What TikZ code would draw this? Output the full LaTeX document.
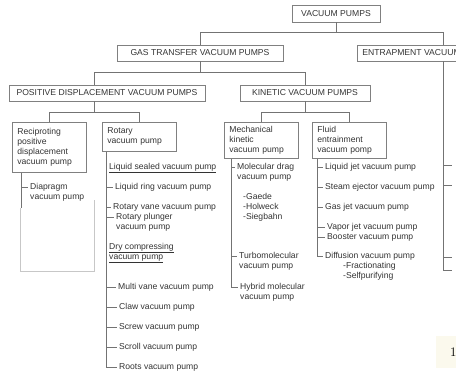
\documentclass[tikz,border=0pt]{standalone}
\usepackage{fontspec}
\setsansfont{Liberation Sans}
\definecolor{cream}{RGB}{251,249,237}

\begin{document}
\begin{tikzpicture}[x=1pt,y=-1pt,
    font=\sffamily\fontsize{8.6}{10}\selectfont,
    link/.style={draw=black!55,line width=0.7pt},
    group/.style={draw=black!50,line width=0.8pt,text=black!80,inner xsep=5pt,inner ysep=0pt}]

    % `group' is a boxed class of pumps.
    % `kind' is a boxed pump type, `item' a pump hung on a spine.
    \tikzstyle{kind} = [draw=black!50,line width=0.8pt,text=black!80,align=left,text width=64pt,inner xsep=5pt,anchor=north west]
    \tikzstyle{item} = [text=black!80,align=left,inner xsep=2.5pt,inner ysep=0pt,anchor=north west]
    \tikzstyle{sheet} = [draw=black!22,line width=0.6pt]
    %
    \useasboundingbox (0,0) rectangle (456,375);
    \clip (0,0) rectangle (456,375);

    % Spine positions.
    \coordinate (pdx) at (94,0);
    \coordinate (recipx) at (21,0);
    \coordinate (rotx) at (106,0);
    \coordinate (mechx) at (231,0);
    \coordinate (fluidx) at (317,0);
    \coordinate (entx) at (443,0);

    % Classes.
    \node[group,minimum width=88pt,minimum height=17pt] (vp) at (336,13.5) {VACUUM PUMPS};
    \node[group,minimum width=166pt,minimum height=16pt] (gt) at (200,53) {GAS TRANSFER VACUUM PUMPS};
    \node[group,minimum height=16pt,anchor=west] (ent) at (357,53) {ENTRAPMENT VACUUM PUMPS};
    \node[group,minimum width=196pt,minimum height=16pt] (pd) at (107,93) {POSITIVE DISPLACEMENT VACUUM PUMPS};
    \node[group,minimum width=130pt,minimum height=16pt] (kin) at (305,93) {KINETIC VACUUM PUMPS};

    % Types.
    \node[kind,minimum height=50pt] (recip) at (12,122) {Reciproting\\positive\\displacement\\vacuum pump};
    \node[kind,minimum height=29pt] (rot) at (102,122) {Rotary\\vacuum pump};
    \node[kind,minimum height=36pt] (mech) at (224,122) {Mechanical\\kinetic\\vacuum pump};
    \node[kind,minimum height=36pt] (fluid) at (312,122) {Fluid\\entrainment\\vacuum pomp};

    % Tree lines.
    \draw[link] (vp.south) -- ++(0,10) -| (gt.north);
    \draw[link] (vp.south) -- ++(0,10) -| (ent.north -| entx);
    \draw[link] (gt.south) -- ++(0,11) -| (pd.north -| pdx);
    \draw[link] (gt.south) -- ++(0,11) -| (kin.north);
    \draw[link] (pd.south -| pdx) -- ++(0,11) -| (recip.north);
    \draw[link] (pd.south -| pdx) -- ++(0,11) -| (rot.north);
    \draw[link] (kin.south) -- ++(0,11) -| (mech.north);
    \draw[link] (kin.south) -- ++(0,11) -| (fluid.north);

    % Reciproting pumps.
    \draw[sheet] (20,208) -- (20,271) -- (94,271) -- (94,200);
    \node[item] (diaph) at (27.5,183) {Diapragm\\vacuum pump};
    \coordinate (recipend) at (21,208);
    \draw[link] (recip.south -| recipx) -- (recipend);
    \draw[link] ([yshift=-4pt]diaph.north west -| recipx) -- ([yshift=-4pt]diaph.north west);

    % Rotary pumps.
    \node[item] (lsealed) at (106.5,163) {\underline{Liquid sealed vacuum pump}};
    \node[item] (lring) at (112.5,183) {Liquid ring vacuum pump};
    \node[item] (rvane) at (110.5,203) {Rotary vane vacuum pump};
    \node[item] (rplunger) at (113.5,213) {Rotary plunger\\vacuum pump};
    \node[item] (drycomp) at (106.5,243) {\underline{Dry compressing}\\\underline{vacuum pump}};
    \node[item] (mvane) at (115.5,283) {Multi vane vacuum pump};
    \node[item] (claw) at (116.5,303) {Claw vacuum pump};
    \node[item] (screw) at (116.5,323) {Screw vacuum pump};
    \node[item] (scroll) at (116.5,343) {Scroll vacuum pump};
    \node[item] (roots) at (116.5,363) {Roots vacuum pump};
    \draw[link] (rot.south -| rotx) |- ([yshift=-4pt]roots.north west);
    \foreach \p in {lring,rvane,rplunger,mvane,claw,screw,scroll}
      \draw[link] ([yshift=-4pt]\p.north west -| rotx) -- ([yshift=-4pt]\p.north west);

    % Mechanical kinetic pumps.
    \node[item] (moldrag) at (234.5,163) {Molecular drag\\vacuum pump};
    \node[item] (makers) at (240.5,193) {-Gaede\\-Holweck\\-Siegbahn};
    \node[item] (turbo) at (236.5,252) {Turbomolecular\\vacuum pump};
    \node[item] (hybrid) at (237.5,283) {Hybrid molecular\\vacuum pump};
    \draw[link] (mech.south -| mechx) |- ([yshift=-4pt]hybrid.north west);
    \foreach \p in {moldrag,turbo}
      \draw[link] ([yshift=-4pt]\p.north west -| mechx) -- ([yshift=-4pt]\p.north west);

    % Fluid entrainment pumps.
    \node[item] (ljet) at (322.5,163) {Liquid jet vacuum pump};
    \node[item] (steam) at (322.5,183) {Steam ejector vacuum pump};
    \node[item] (gasjet) at (322.5,203) {Gas jet vacuum pump};
    \node[item] (vapor) at (324.5,223) {Vapor jet vacuum pump};
    \node[item] (booster) at (324.5,233) {Booster vacuum pump};
    \node[item] (diffusion) at (322.5,252) {Diffusion vacuum pump};
    \node[item] (diffkinds) at (340.5,262) {-Fractionating\\-Selfpurifying};
    \draw[link] (fluid.south -| fluidx) |- ([yshift=-4pt]diffusion.north west);
    \foreach \p in {ljet,steam,gasjet,vapor,booster}
      \draw[link] ([yshift=-4pt]\p.north west -| fluidx) -- ([yshift=-4pt]\p.north west);

    % Entrapment pumps (cut off at the edge).
    \coordinate (e1) at (452,165);
    \coordinate (e2) at (452,185);
    \coordinate (e3) at (452,257);
    \coordinate (e4) at (452,270);
    \draw[link] (ent.south -| entx) |- (e4);
    \foreach \c in {e1,e2,e3}
      \draw[link] (\c -| entx) -- (\c);

    % Page number scrap.
    \fill[cream] (436,336) rectangle (456,368);
    \node[font=\rmfamily\fontsize{13}{13}\selectfont,anchor=west,inner sep=0pt] (pg) at (450,352) {1};
\end{tikzpicture}
\end{document}
